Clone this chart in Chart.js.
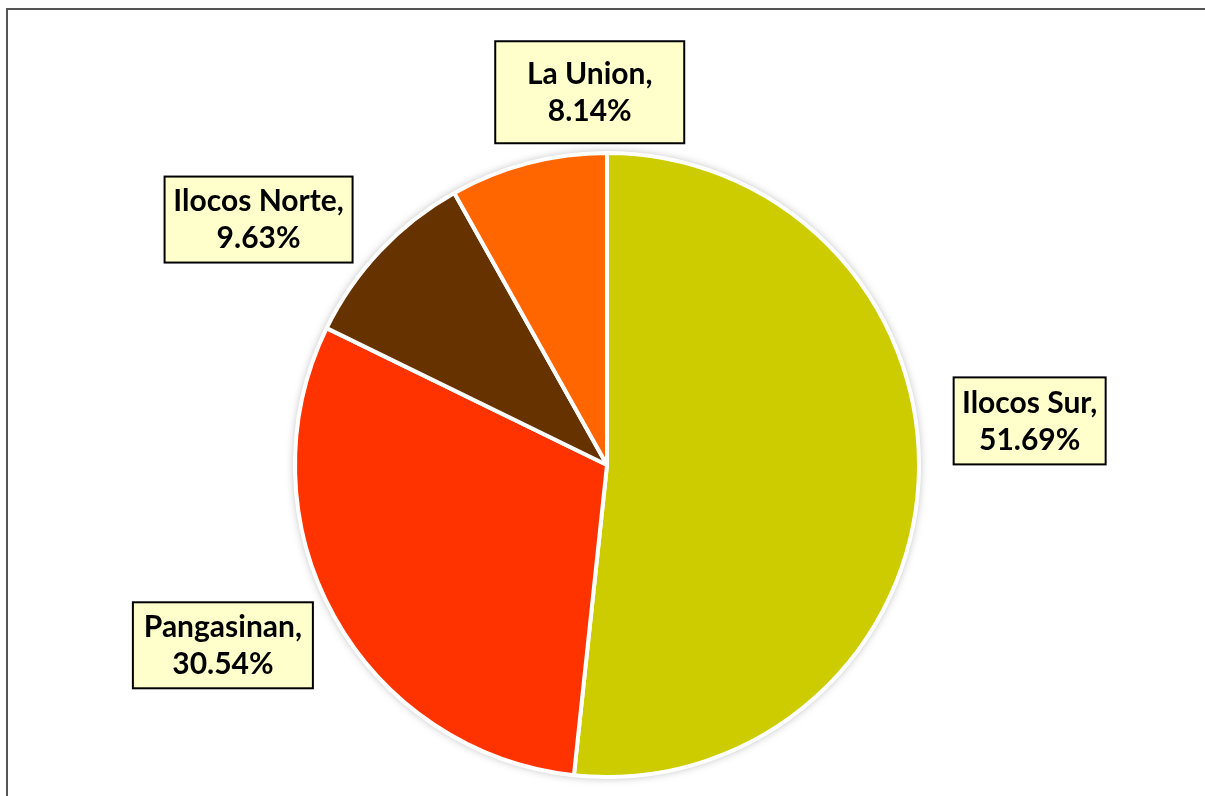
<!DOCTYPE html>
<html>
<head>
<meta charset="utf-8">
<script src="https://cdn.jsdelivr.net/npm/chart.js@4.4.0/dist/chart.umd.min.js"></script>
<style>
  html, body { margin: 0; padding: 0; background: #fff; }
  #wrap { width: 1205px; height: 796px; }
</style>
</head>
<body>
<div id="wrap"><canvas id="myPieChart"></canvas></div>
<script>
var provinces = ["Ilocos Sur", "Pangasinan", "Ilocos Norte", "La Union"];
var shares = [51.69, 30.54, 9.63, 8.14];
var sliceColors = ["#CCCC00", "#FF3300", "#663300", "#FF6600"];

// label placement tweaks (angle shift in degrees, distance as factor of radius, box size)
var labelStyle = [
    { turn: -9, dist: 1.362, w: 152, h: 87 },
    { turn: 3.8, dist: 1.36, w: 180, h: 86 },
    { turn: -8.2, dist: 1.366, w: 188, h: 86 },
    { turn: 12, dist: 1.196, w: 189, h: 102 }
];

var framePlugin = {
    id: "frame",
    beforeDraw: function (chart) {
        var c = chart.ctx;
        c.save();
        c.fillStyle = "#555555";
        c.fillRect(6, 8, 1199, 2);
        c.fillRect(6, 8, 2, 788);
        c.restore();
    },
    beforeDatasetsDraw: function (chart) {
        var arc = chart.getDatasetMeta(0).data[0];
        if (!arc) return;
        var c = chart.ctx;
        c.save();
        c.shadowColor = "rgba(0,0,0,0.35)";
        c.shadowBlur = 10;
        c.fillStyle = "#ffffff";
        c.beginPath();
        c.arc(arc.x, arc.y, arc.outerRadius, 0, Math.PI * 2);
        c.fill();
        c.restore();
    }
};

var boxLabels = {
    id: "boxLabels",
    afterDatasetsDraw: function (chart) {
        var c = chart.ctx;
        var meta = chart.getDatasetMeta(0);
        c.save();
        c.font = "bold 30px Lato";
        c.textAlign = "center";
        c.textBaseline = "middle";
        meta.data.forEach(function (arc, i) {
            var st = labelStyle[i];
            var mid = (arc.startAngle + arc.endAngle) / 2 + st.turn * Math.PI / 180;
            var d = arc.outerRadius * st.dist;
            var cx = arc.x + Math.cos(mid) * d;
            var cy = arc.y + Math.sin(mid) * d;
            c.fillStyle = "#FFFFCC";
            c.fillRect(cx - st.w / 2, cy - st.h / 2, st.w, st.h);
            c.lineWidth = 2;
            c.strokeStyle = "#000000";
            c.strokeRect(cx - st.w / 2, cy - st.h / 2, st.w, st.h);
            c.fillStyle = "#000000";
            c.fillText(provinces[i] + ",", cx, cy - 18);
            c.fillText(shares[i].toFixed(2) + "%", cx, cy + 19);
        });
        c.restore();
    }
};

var ctx = document.getElementById("myPieChart");
var myPieChart = new Chart(ctx, {
    type: "pie",
    data: {
        labels: provinces,
        datasets: [{
            data: shares,
            backgroundColor: sliceColors,
            borderColor: "#ffffff",
            borderWidth: 4
        }]
    },
    options: {
        responsive: true,
        maintainAspectRatio: false,
        animation: false,
        layout: { padding: { top: 151, bottom: 17, left: 200, right: 191 } },
        plugins: {
            legend: { display: false },
            tooltip: { enabled: false }
        }
    },
    plugins: [framePlugin, boxLabels]
});
</script>
</body>
</html>
